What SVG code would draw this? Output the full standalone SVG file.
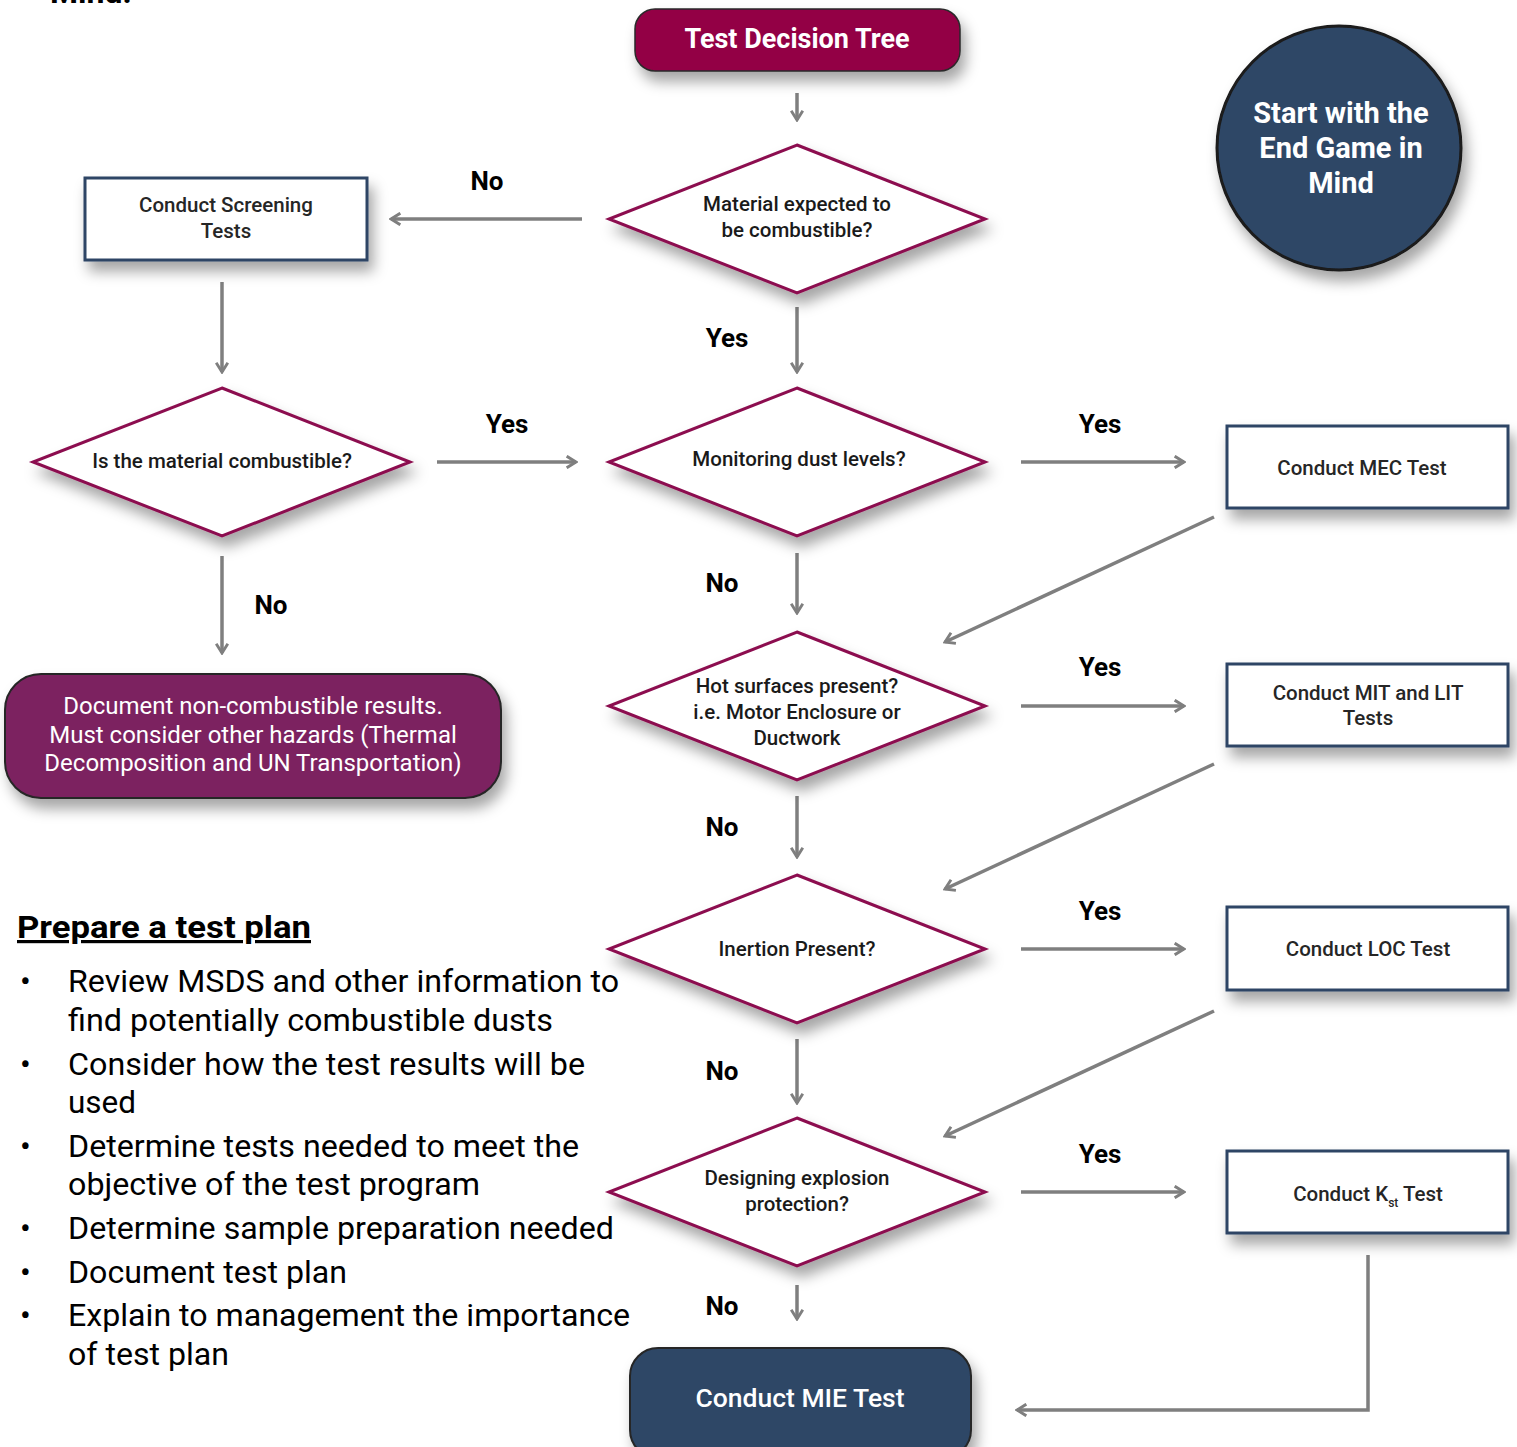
<svg xmlns="http://www.w3.org/2000/svg" width="1517" height="1447" viewBox="0 0 1517 1447">
<style>
text{font-family:Roboto,"Liberation Sans",sans-serif}
.lbl{font-size:26px;font-weight:700;fill:#000;text-anchor:middle}
.dt{font-size:20.5px;font-weight:500;fill:#1a1a1a;text-anchor:middle}
.bt{font-size:20.5px;font-weight:500;fill:#262626;text-anchor:middle}
.dia{fill:#fff;stroke:#8c0d4f;stroke-width:3}
.box{fill:#fff;stroke:#2d4565;stroke-width:3}
.con{fill:none;stroke:#7f7f7f;stroke-width:3.5}
.bul{font-size:32px;fill:#000}
</style>
<defs>
<filter id="sh" x="-20%" y="-20%" width="150%" height="170%">
<feDropShadow dx="5" dy="10" stdDeviation="7" flood-color="#000" flood-opacity="0.35"/>
</filter>
<marker id="ar" viewBox="0 0 12 12" refX="10" refY="6" markerWidth="4" markerHeight="4" orient="auto" markerUnits="strokeWidth">
<path d="M2,1 L10,6 L2,11" fill="none" stroke="#7f7f7f" stroke-width="2.5"/>
</marker>
</defs>
<rect width="1517" height="1447" fill="#fff"/>
<text x="50" y="3" style="font-size:32px;font-weight:700;fill:#000">Mind.</text>

<g id="connectors">
<line class="con" x1="797" y1="93" x2="797" y2="120" marker-end="url(#ar)"/>
<line class="con" x1="582" y1="219" x2="391" y2="219" marker-end="url(#ar)"/>
<line class="con" x1="222" y1="282" x2="222" y2="372" marker-end="url(#ar)"/>
<line class="con" x1="437" y1="462" x2="576" y2="462" marker-end="url(#ar)"/>
<line class="con" x1="222" y1="556" x2="222" y2="653" marker-end="url(#ar)"/>
<line class="con" x1="797" y1="307" x2="797" y2="372" marker-end="url(#ar)"/>
<line class="con" x1="1021" y1="462" x2="1184" y2="462" marker-end="url(#ar)"/>
<line class="con" x1="1214" y1="517" x2="945" y2="642" marker-end="url(#ar)"/>
<line class="con" x1="797" y1="553" x2="797" y2="613" marker-end="url(#ar)"/>
<line class="con" x1="1021" y1="706" x2="1184" y2="706" marker-end="url(#ar)"/>
<line class="con" x1="1214" y1="764" x2="945" y2="889" marker-end="url(#ar)"/>
<line class="con" x1="797" y1="796" x2="797" y2="857" marker-end="url(#ar)"/>
<line class="con" x1="1021" y1="949" x2="1184" y2="949" marker-end="url(#ar)"/>
<line class="con" x1="1214" y1="1011" x2="945" y2="1136" marker-end="url(#ar)"/>
<line class="con" x1="797" y1="1039" x2="797" y2="1103" marker-end="url(#ar)"/>
<line class="con" x1="1021" y1="1192" x2="1184" y2="1192" marker-end="url(#ar)"/>
<line class="con" x1="797" y1="1285" x2="797" y2="1319" marker-end="url(#ar)"/>
<polyline class="con" points="1368,1255 1368,1410 1017,1410" marker-end="url(#ar)"/>
<text class="lbl" x="487" y="190">No</text>
<text class="lbl" x="507" y="433">Yes</text>
<text class="lbl" x="271" y="614">No</text>
<text class="lbl" x="727" y="347">Yes</text>
<text class="lbl" x="1100" y="433">Yes</text>
<text class="lbl" x="722" y="592">No</text>
<text class="lbl" x="1100" y="676">Yes</text>
<text class="lbl" x="722" y="836">No</text>
<text class="lbl" x="1100" y="920">Yes</text>
<text class="lbl" x="722" y="1080">No</text>
<text class="lbl" x="1100" y="1163">Yes</text>
<text class="lbl" x="722" y="1315">No</text>
</g>

<g id="title">
<rect x="635" y="9" width="325" height="62" rx="20" fill="#930045" stroke="#2a2a2a" stroke-width="1.5" filter="url(#sh)"/>
<text x="797" y="48" style="font-size:27px;font-weight:700;fill:#fff;text-anchor:middle">Test Decision Tree</text>
</g>

<g id="endgame">
<circle cx="1339" cy="148" r="122" fill="#2e4666" stroke="#1a1a1a" stroke-width="3" filter="url(#sh)"/>
<text x="1341" y="123" style="font-size:29px;font-weight:700;fill:#fff;text-anchor:middle">Start with the</text>
<text x="1341" y="158" style="font-size:29px;font-weight:700;fill:#fff;text-anchor:middle">End Game in</text>
<text x="1341" y="193" style="font-size:29px;font-weight:700;fill:#fff;text-anchor:middle">Mind</text>
</g>

<g id="d-combustible-expected">
<polygon class="dia" points="797,145 985,219 797,293 609,219" filter="url(#sh)"/>
<text class="dt" x="797" y="211">Material expected to</text>
<text class="dt" x="797" y="237">be combustible?</text>
</g>

<g id="screening">
<rect class="box" x="85" y="178" width="282" height="82" filter="url(#sh)"/>
<text class="bt" x="226" y="212">Conduct Screening</text>
<text class="bt" x="226" y="238">Tests</text>
</g>

<g id="d-is-combustible">
<polygon class="dia" points="222,388 410,462 222,536 33,462" filter="url(#sh)"/>
<text class="dt" x="222" y="468">Is the material combustible?</text>
</g>

<g id="noncombustible">
<rect x="5" y="674" width="496" height="124" rx="36" fill="#7b2260" stroke="#262626" stroke-width="2" filter="url(#sh)"/>
<text x="253" y="714" style="font-size:24px;fill:#fff;text-anchor:middle">Document non-combustible results.</text>
<text x="253" y="743" style="font-size:24px;fill:#fff;text-anchor:middle">Must consider other hazards (Thermal</text>
<text x="253" y="771" style="font-size:24px;fill:#fff;text-anchor:middle">Decomposition and UN Transportation)</text>
</g>

<g id="d-monitoring">
<polygon class="dia" points="797,388 985,462 797,536 609,462" filter="url(#sh)"/>
<text class="dt" x="799" y="466">Monitoring dust levels?</text>
</g>

<g id="mec">
<rect class="box" x="1227" y="426" width="281" height="82" filter="url(#sh)"/>
<text class="bt" x="1362" y="475">Conduct MEC Test</text>
</g>

<g id="d-hot">
<polygon class="dia" points="797,632 985,706 797,780 609,706" filter="url(#sh)"/>
<text class="dt" x="797" y="693">Hot surfaces present?</text>
<text class="dt" x="797" y="719">i.e. Motor Enclosure or</text>
<text class="dt" x="797" y="745">Ductwork</text>
</g>

<g id="mit">
<rect class="box" x="1227" y="664" width="281" height="82" filter="url(#sh)"/>
<text class="bt" x="1368" y="700">Conduct MIT and LIT</text>
<text class="bt" x="1368" y="725">Tests</text>
</g>

<g id="d-inertion">
<polygon class="dia" points="797,875 985,949 797,1023 609,949" filter="url(#sh)"/>
<text class="dt" x="797" y="956">Inertion Present?</text>
</g>

<g id="loc">
<rect class="box" x="1227" y="907" width="281" height="83" filter="url(#sh)"/>
<text class="bt" x="1368" y="956">Conduct LOC Test</text>
</g>

<g id="d-explosion">
<polygon class="dia" points="797,1118 985,1192 797,1266 609,1192" filter="url(#sh)"/>
<text class="dt" x="797" y="1185">Designing explosion</text>
<text class="dt" x="797" y="1211">protection?</text>
</g>

<g id="kst">
<rect class="box" x="1227" y="1151" width="281" height="82" filter="url(#sh)"/>
<text class="bt" x="1368" y="1201">Conduct K<tspan style="font-size:12px" dy="6">st</tspan><tspan dy="-6"> Test</tspan></text>
</g>

<g id="mie">
<rect x="630" y="1348" width="341" height="110" rx="28" fill="#2e4666" stroke="#262626" stroke-width="2" filter="url(#sh)"/>
<text x="800" y="1407" style="font-size:26.5px;font-weight:500;fill:#fff;text-anchor:middle">Conduct MIE Test</text>
</g>

<g id="testplan">
<text x="17" y="938" style="font-size:32px;font-weight:700;fill:#000;text-decoration:underline" textLength="294" lengthAdjust="spacingAndGlyphs">Prepare a test plan</text>
<text class="bul" x="20" y="992">•</text>
<text class="bul" x="68" y="992" textLength="551" lengthAdjust="spacingAndGlyphs">Review MSDS and other information to</text>
<text class="bul" x="68" y="1031" textLength="485" lengthAdjust="spacingAndGlyphs">find potentially combustible dusts</text>
<text class="bul" x="20" y="1075">•</text>
<text class="bul" x="68" y="1075" textLength="517" lengthAdjust="spacingAndGlyphs">Consider how the test results will be</text>
<text class="bul" x="68" y="1113" textLength="68" lengthAdjust="spacingAndGlyphs">used</text>
<text class="bul" x="20" y="1157">•</text>
<text class="bul" x="68" y="1157" textLength="511" lengthAdjust="spacingAndGlyphs">Determine tests needed to meet the</text>
<text class="bul" x="68" y="1195" textLength="412" lengthAdjust="spacingAndGlyphs">objective of the test program</text>
<text class="bul" x="20" y="1239">•</text>
<text class="bul" x="68" y="1239" textLength="546" lengthAdjust="spacingAndGlyphs">Determine sample preparation needed</text>
<text class="bul" x="20" y="1283">•</text>
<text class="bul" x="68" y="1283" textLength="279" lengthAdjust="spacingAndGlyphs">Document test plan</text>
<text class="bul" x="20" y="1326">•</text>
<text class="bul" x="68" y="1326" textLength="562" lengthAdjust="spacingAndGlyphs">Explain to management the importance</text>
<text class="bul" x="68" y="1365" textLength="161" lengthAdjust="spacingAndGlyphs">of test plan</text>
</g>
</svg>
